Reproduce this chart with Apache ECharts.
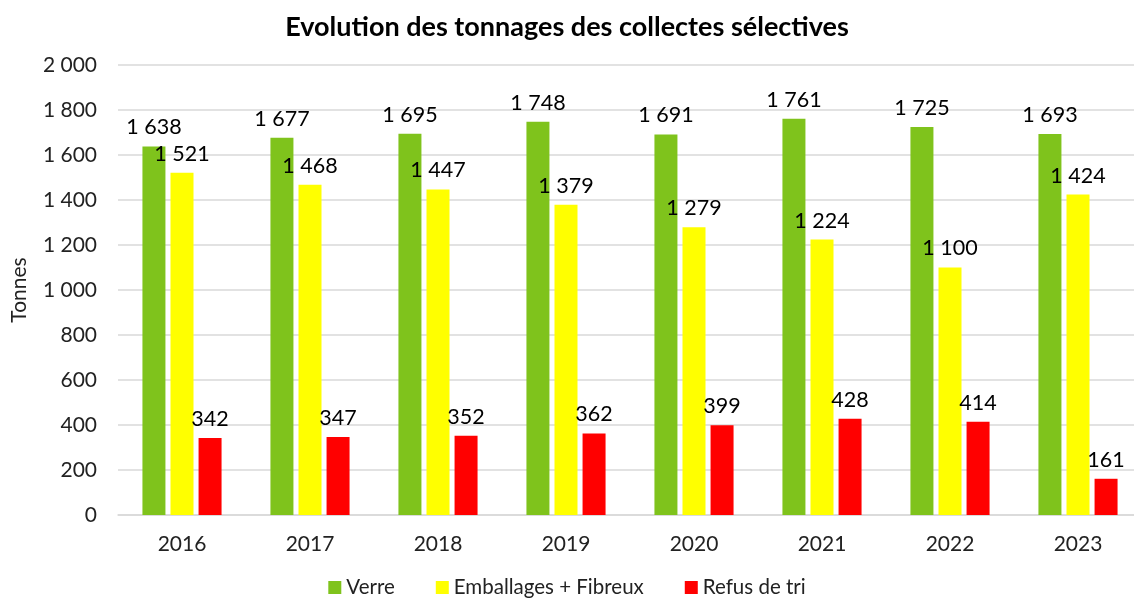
<!DOCTYPE html>
<html><head><meta charset="utf-8">
<script src="https://cdn.jsdelivr.net/npm/echarts@6/dist/echarts.min.js"></script>
<style>html,body{margin:0;padding:0;background:#fff}#c{width:1134px;height:599px}</style>
</head><body><div id="c"></div>
<script>
const years = ['2016','2017','2018','2019','2020','2021','2022','2023'];
const verre = [1638,1677,1695,1748,1691,1761,1725,1693];
const emballages = [1521,1468,1447,1379,1279,1224,1100,1424];
const refus = [342,347,352,362,399,428,414,161];
const seriesNames = ['Verre','Emballages + Fibreux','Refus de tri'];
const colors = ['#7FC31C','#FFFF00','#FF0000'];

function fmt(v){return String(v).replace(/\B(?=(\d{3})+(?!\d))/g,' ');}
const font = 'Lato, Carlito, sans-serif';
const chart = echarts.init(document.getElementById('c'));
const mk = (name, data, color) => ({
  name, type:'bar', data, barWidth:23, barGap:'22%',
  itemStyle:{color},
  label:{show:true, position:'top', distance:8, color:'#000', fontSize:21.5, fontFamily:font,
    formatter:p=>fmt(p.value)}
});
chart.setOption({
  animation:false,
  title:{text:'Evolution des tonnages des collectes sélectives', left:'center', top:9,
    textStyle:{fontSize:27, fontWeight:'bold', color:'#000', fontFamily:font}},
  legend:{bottom:-4, itemWidth:13, itemHeight:13, itemGap:41, icon:'rect',
    textStyle:{fontSize:20.5, color:'#222', fontFamily:font}},
  grid:{left:118, right:-8, top:65, bottom:84, outerBoundsMode:'none', containLabel:false},
  xAxis:{type:'category', data:years,
    axisLine:{lineStyle:{color:'#d9d9d9', width:1.5}}, axisTick:{show:false},
    axisLabel:{fontSize:21, color:'#222', margin:19, fontFamily:font}},
  yAxis:{type:'value', min:0, max:2000, interval:200,
    name:'Tonnes', nameLocation:'middle', nameGap:88, nameRotate:90,
    nameTextStyle:{fontSize:21, color:'#222', fontFamily:font},
    axisLabel:{fontSize:21, color:'#222', margin:21, fontFamily:font, formatter:fmt},
    splitLine:{lineStyle:{color:'#d9d9d9', width:1.5}}},
  series:[mk(seriesNames[0],verre,colors[0]), mk(seriesNames[1],emballages,colors[1]), mk(seriesNames[2],refus,colors[2])]
});
</script></body></html>
